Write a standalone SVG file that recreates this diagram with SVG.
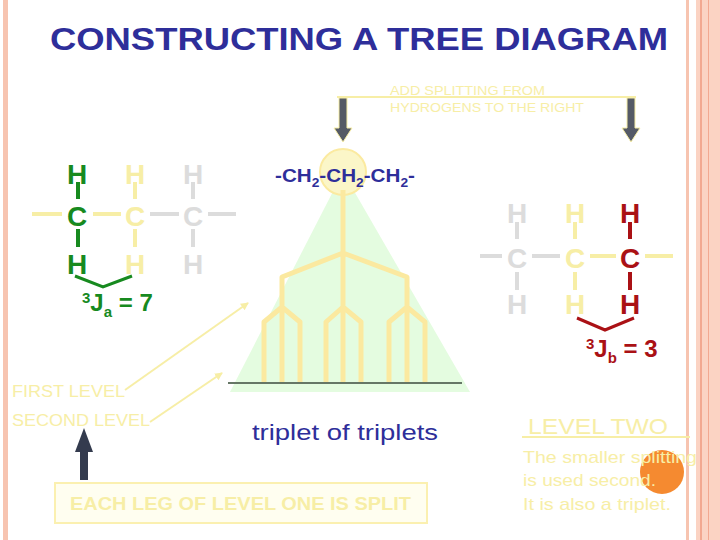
<svg xmlns="http://www.w3.org/2000/svg" width="720" height="540" viewBox="0 0 720 540">
<defs>
<style>
.s{font-family:"Liberation Sans",Arial,sans-serif}
.y{fill:#f7eea6}
.g{fill:#dcdcdc}
.gr{fill:#178a1f}
.rd{fill:#aa1115}
.bl{fill:#2e2e9a}
.tr{stroke:#fbe9a0;stroke-width:5;fill:none;stroke-linejoin:round}
</style>
<marker id="ah" markerWidth="8" markerHeight="8" refX="7" refY="4" orient="auto" markerUnits="userSpaceOnUse"><path d="M0,0L8,4L0,8z" fill="#f7eea6"/></marker>
</defs>
<rect width="720" height="540" fill="#fff"/>
<rect x="3" y="0" width="5" height="540" fill="#f7c4b0"/>
<rect x="686" y="0" width="3" height="540" fill="#f7c4b0"/>
<rect x="696" y="0" width="24" height="540" fill="#fbd3c3"/>
<rect x="700" y="0" width="2" height="540" fill="#f2a890"/>
<rect x="708" y="0" width="1" height="540" fill="#f2a890"/>
<text class="s bl" x="50" y="50" font-size="32" font-weight="bold" textLength="618" lengthAdjust="spacingAndGlyphs">CONSTRUCTING A TREE DIAGRAM</text>

<g id="tree">
<polygon points="343,172 230,392 470,392" fill="#e4fce0"/>
<circle cx="343" cy="172" r="23" fill="#fbf6c8" stroke="#fbeaa0" stroke-width="2"/>
<path class="tr" d="M343,190V307M282,307V277L343,253L407,277V307M264,383V322L282,307L300,322V383M282,307V383M326,383V322L343,307L361,322V383M343,307V383M389,383V322L407,307L425,322V383M407,307V383"/>
<line x1="228" y1="383" x2="462" y2="383" stroke="#667766" stroke-width="2"/>
<text class="s bl" x="275" y="182" font-size="18" font-weight="bold" textLength="140" lengthAdjust="spacingAndGlyphs">-CH<tspan font-size="12" dy="5">2</tspan><tspan dy="-5">-CH</tspan><tspan font-size="12" dy="5">2</tspan><tspan dy="-5">-CH</tspan><tspan font-size="12" dy="5">2</tspan><tspan dy="-5">-</tspan></text>
</g>

<g id="add-splitting">
<line x1="337" y1="97" x2="636" y2="97" stroke="#f7eea6" stroke-width="2"/>
<text class="s y" x="390" y="95" font-size="13" textLength="155" lengthAdjust="spacingAndGlyphs">ADD SPLITTING FROM</text>
<text class="s y" x="390" y="112" font-size="13" textLength="194" lengthAdjust="spacingAndGlyphs">HYDROGENS TO THE RIGHT</text>
<path d="M339,98h8v30h5l-9,14l-9,-14h5z" fill="#555a66" stroke="#f7eea6" stroke-width="1"/>
<path d="M627,98h8v30h5l-9,14l-9,-14h5z" fill="#555a66" stroke="#f7eea6" stroke-width="1"/>
</g>

<g id="left-molecule" class="s" font-size="28" font-weight="bold" text-anchor="middle">
<line x1="32" y1="214" x2="62" y2="214" stroke="#f7eea6" stroke-width="4"/>
<line x1="93" y1="214" x2="121" y2="214" stroke="#f7eea6" stroke-width="4"/>
<line x1="150" y1="214" x2="179" y2="214" stroke="#dcdcdc" stroke-width="4"/>
<line x1="208" y1="214" x2="236" y2="214" stroke="#dcdcdc" stroke-width="4"/>
<path d="M78,182v17M78,229v18" stroke="#178a1f" stroke-width="4"/>
<path d="M135,182v17M135,229v18" stroke="#f7eea6" stroke-width="4"/>
<path d="M193,182v17M193,229v18" stroke="#dcdcdc" stroke-width="4"/>
<text class="gr" x="77" y="184">H</text><text class="gr" x="77" y="226">C</text><text class="gr" x="77" y="274">H</text>
<text class="y" x="135" y="184">H</text><text class="y" x="135" y="226">C</text><text class="y" x="135" y="274">H</text>
<text class="g" x="193" y="184">H</text><text class="g" x="193" y="226">C</text><text class="g" x="193" y="274">H</text>
<path d="M75,276L103,287L132,276" stroke="#178a1f" stroke-width="3" fill="none"/>
<text class="gr" x="82" y="311" font-size="24" text-anchor="start"><tspan font-size="15" dy="-8">3</tspan><tspan dy="8">J</tspan><tspan font-size="15" dy="6">a</tspan><tspan dy="-6"> = 7</tspan></text>
</g>

<g id="right-molecule" class="s" font-size="28" font-weight="bold" text-anchor="middle">
<line x1="480" y1="256" x2="502" y2="256" stroke="#dcdcdc" stroke-width="4"/>
<line x1="532" y1="256" x2="560" y2="256" stroke="#dcdcdc" stroke-width="4"/>
<line x1="590" y1="256" x2="616" y2="256" stroke="#f7eea6" stroke-width="4"/>
<line x1="645" y1="256" x2="673" y2="256" stroke="#f7eea6" stroke-width="4"/>
<path d="M517,222v17M517,272v18" stroke="#dcdcdc" stroke-width="4"/>
<path d="M575,222v17M575,272v18" stroke="#f7eea6" stroke-width="4"/>
<path d="M630,222v17M630,272v18" stroke="#aa1115" stroke-width="4"/>
<text class="g" x="517" y="223">H</text><text class="g" x="517" y="268">C</text><text class="g" x="517" y="314">H</text>
<text class="y" x="575" y="223">H</text><text class="y" x="575" y="268">C</text><text class="y" x="575" y="314">H</text>
<text class="rd" x="630" y="223">H</text><text class="rd" x="630" y="268">C</text><text class="rd" x="630" y="314">H</text>
<path d="M577,318L605,330L634,318" stroke="#aa1115" stroke-width="3" fill="none"/>
<text class="rd" x="586" y="357" font-size="24" text-anchor="start"><tspan font-size="15" dy="-8">3</tspan><tspan dy="8">J</tspan><tspan font-size="15" dy="6">b</tspan><tspan dy="-6"> = 3</tspan></text>
</g>

<g id="level-labels" class="s y" font-size="16">
<text x="12" y="397" textLength="113" lengthAdjust="spacingAndGlyphs">FIRST LEVEL</text>
<text x="12" y="426" textLength="138" lengthAdjust="spacingAndGlyphs">SECOND LEVEL</text>
</g>
<g id="connectors" stroke="#f7eea6" stroke-width="2" fill="none">
<line x1="125" y1="390" x2="248" y2="303" marker-end="url(#ah)"/>
<line x1="150" y1="422" x2="222" y2="373" marker-end="url(#ah)"/>
</g>
<path id="up-arrow" d="M80,480V452h-5l9,-24l9,24h-5v28z" fill="#343b4e"/>

<g id="split-box">
<rect x="55" y="483" width="372" height="40" fill="#fffef0" stroke="#fbf0b0" stroke-width="2"/>
<text class="s y" x="70" y="510" font-size="19" font-weight="bold" textLength="341" lengthAdjust="spacingAndGlyphs">EACH LEG OF LEVEL ONE IS SPLIT</text>
</g>
<text class="s bl" x="252" y="440" font-size="22" textLength="186" lengthAdjust="spacingAndGlyphs">triplet of triplets</text>

<g id="level-two">
<circle cx="662" cy="472" r="22" fill="#f58a30"/>
<text class="s y" x="528" y="434" font-size="22" textLength="140" lengthAdjust="spacingAndGlyphs">LEVEL TWO</text>
<line x1="522" y1="437" x2="690" y2="437" stroke="#f7eea6" stroke-width="2"/>
<text class="s y" x="523" y="463" font-size="17" textLength="174" lengthAdjust="spacingAndGlyphs">The smaller splitting</text>
<text class="s y" x="523" y="486" font-size="17" textLength="133" lengthAdjust="spacingAndGlyphs">is used second.</text>
<text class="s y" x="523" y="510" font-size="17" textLength="148" lengthAdjust="spacingAndGlyphs">It is also a triplet.</text>
</g>
</svg>
